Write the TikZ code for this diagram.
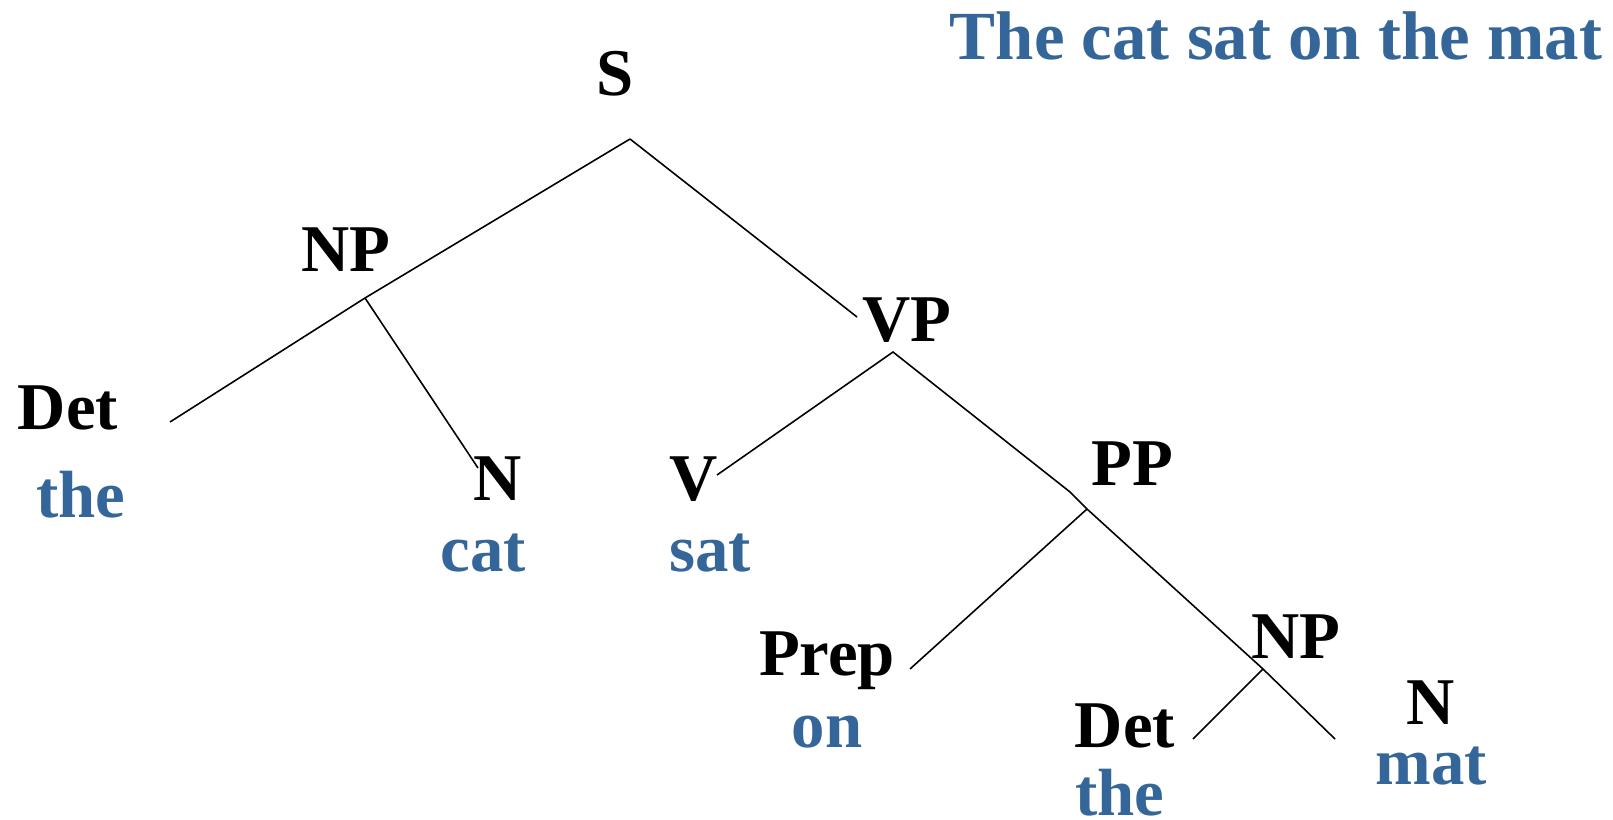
\documentclass[tikz,border=0pt]{standalone}
\usepackage{fontspec}
\setmainfont{Liberation Serif}
\definecolor{wordblue}{RGB}{52,102,153}
\tikzset{
  cat/.style={font=\fontsize{19}{22}\selectfont\bfseries, anchor=base, inner sep=0pt},
  word/.style={cat, text=wordblue},
  branch/.style={line width=0.45pt}
}

\begin{document}
\begin{tikzpicture}[x=0.1mm, y=-0.1mm]
    \useasboundingbox (0,0) rectangle (1613,820);

    % Sentence
    \node[word, anchor=base east, font=\fontsize{19.6}{22}\selectfont\bfseries] (title) at (1603,60) {The cat sat on the mat};

    % Categories
    \node[cat] (s) at (615,96) {S};
    \node[cat] (np) at (346,272) {NP};
    \node[cat] (vp) at (907,342) {VP};
    \node[cat] (det) at (68,430) {Det};
    \node[cat] (n) at (498,500) {N};
    \node[cat] (v) at (694,500) {V};
    \node[cat] (pp) at (1132,485) {PP};
    \node[cat] (prep) at (827,675) {Prep};
    \node[cat] (np2) at (1296,658) {NP};
    \node[cat] (det2) at (1125,747) {Det};
    \node[cat] (n2) at (1431,724) {N};

    % Words
    \node[word] (wthe) at (81,517) {the};
    \node[word] (wcat) at (483,571) {cat};
    \node[word] (wsat) at (710,571) {sat};
    \node[word] (won) at (827,747) {on};
    \node[word] (wthe2) at (1120,815) {the};
    \node[word] (wmat) at (1431,784) {mat};

    % Branch points
    \coordinate (sj) at (630,139);
    \coordinate (npj) at (365,298);
    \coordinate (detend) at (170,422);
    \coordinate (nend) at (478,468);
    \coordinate (vpend) at (857,317);
    \coordinate (vpj) at (893,352);
    \coordinate (vend) at (717,475);
    \coordinate (ppkink) at (1070,492);
    \coordinate (ppj) at (1087,509);
    \coordinate (prepend) at (910,669);
    \coordinate (np2j) at (1263,669);
    \coordinate (det2end) at (1193,739);
    \coordinate (n2end) at (1335,739);

    % Branches
    \draw[branch] (sj) -- (npj) -- (detend);
    \draw[branch] (npj) -- (nend);
    \draw[branch] (sj) -- (vpend);
    \draw[branch] (vend) -- (vpj) -- (ppkink) -- (ppj) -- (np2j) -- (n2end);
    \draw[branch] (ppj) -- (prepend);
    \draw[branch] (np2j) -- (det2end);
\end{tikzpicture}
\end{document}
